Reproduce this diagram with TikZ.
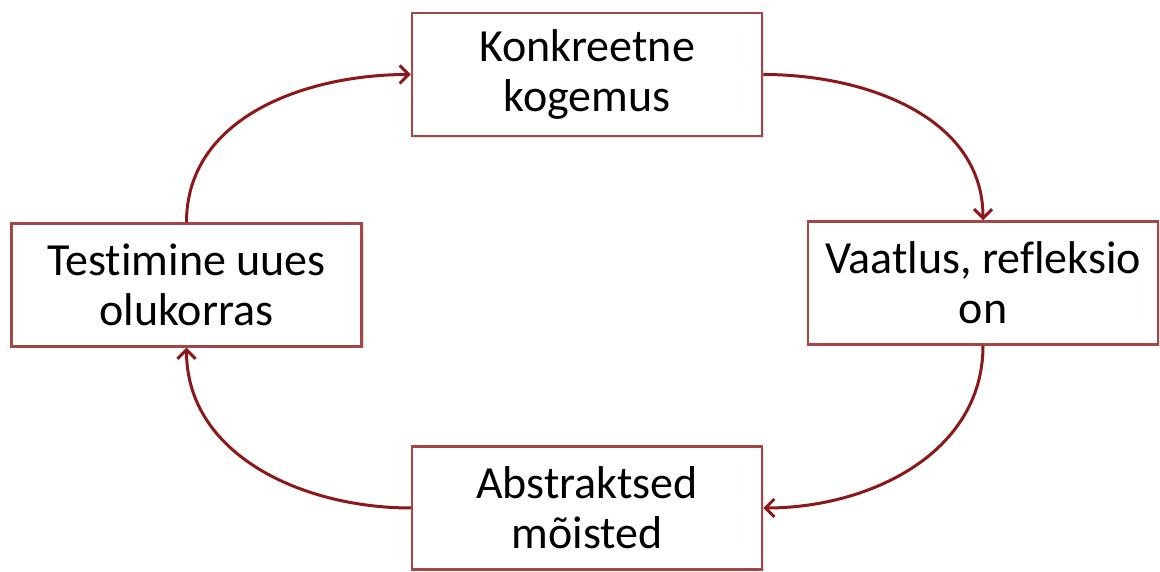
\documentclass[tikz,border=0pt]{standalone}
\usepackage{fontspec}
\setmainfont{Carlito}[Ligatures=NoCommon]
\usetikzlibrary{arrows.meta,shadows}
\definecolor{boxred}{RGB}{165,70,70}
\definecolor{arrowred}{RGB}{140,24,28}

\begin{document}
\begin{tikzpicture}[x=1pt,y=1pt,
    phase/.style={draw=boxred, line width=2.5pt, fill=white,
      minimum width=350pt, minimum height=123pt, align=center,
      font=\fontsize{46}{50}\selectfont,
      drop shadow={opacity=0.25, shadow xshift=2pt, shadow yshift=-2pt}},
    loopline/.style={draw=arrowred, line width=3pt,
      -{Straight Barb[length=9pt,width=18pt]}}]
      \useasboundingbox (0,0) rectangle (1160,572);

      \node[phase] (kogemus) at (587,497.5) {Konkreetne\\kogemus};
      \node[phase] (vaatlus) at (983,289) {Vaatlus, refleksio\\on};
      \node[phase] (moisted) at (587,64) {Abstraktsed\\mõisted};
      \node[phase] (testimine) at (186.5,287) {Testimine uues\\olukorras};

      \draw[loopline] (kogemus.east) to[out=0,in=90] (vaatlus.north);
      \draw[loopline] (vaatlus.south) to[out=-90,in=0] (moisted.east);
      \draw[loopline] (moisted.west) to[out=180,in=-90] (testimine.south);
      \draw[loopline] (testimine.north) to[out=90,in=180] (kogemus.west);
    \end{tikzpicture}
\end{document}
